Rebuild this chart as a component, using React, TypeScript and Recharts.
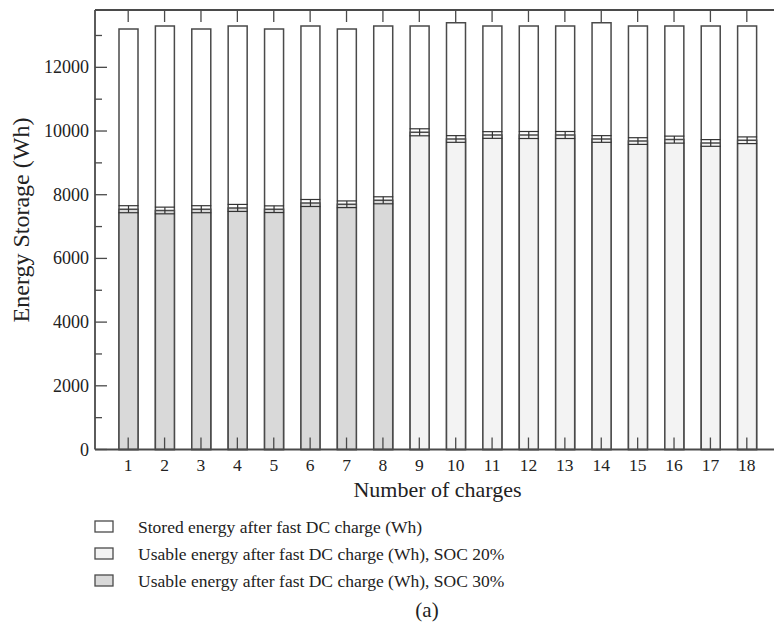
import React from 'react';
import { BarChart, Bar, XAxis, YAxis, ErrorBar } from 'recharts';

const categories = ['1', '2', '3', '4', '5', '6', '7', '8', '9', '10', '11', '12', '13', '14', '15', '16', '17', '18'];
const storedEnergy = [13200, 13300, 13200, 13300, 13200, 13300, 13200, 13300, 13300, 13400, 13300, 13300, 13300, 13400, 13300, 13300, 13300, 13300];
const usableSoc30 = [7545, 7505, 7545, 7585, 7545, 7740, 7700, 7825, null, null, null, null, null, null, null, null, null, null];
const usableSoc20 = [null, null, null, null, null, null, null, null, 9960, 9750, 9875, 9875, 9875, 9750, 9685, 9730, 9625, 9710];
const errorSoc30 = [110, 105, 110, 110, 105, 110, 105, 110, null, null, null, null, null, null, null, null, null, null];
const errorSoc20 = [null, null, null, null, null, null, null, null, 110, 105, 105, 110, 110, 105, 105, 110, 105, 105];
const yTicks = [0, 1000, 2000, 3000, 4000, 5000, 6000, 7000, 8000, 9000, 10000, 11000, 12000, 13000];
const legendItems = [
  { label: 'Stored energy after fast DC charge (Wh)', fill: '#ffffff' },
  { label: 'Usable energy after fast DC charge (Wh), SOC 20%', fill: '#f3f3f3' },
  { label: 'Usable energy after fast DC charge (Wh), SOC 30%', fill: '#d9d9d9' },
];

const data = categories.map((c, i) => ({
  charge: c,
  stored: storedEnergy[i],
  soc30: usableSoc30[i],
  soc20: usableSoc20[i],
  err30: errorSoc30[i],
  err20: errorSoc20[i],
}));

const FONT = '"Liberation Serif", "Times New Roman", serif';
const AX = '#4a4a4a';

const LeftTick = (props: any) => {
  const { x, y, payload } = props;
  const major = payload.value % 2000 === 0;
  return (
    <g>
      <line x1={x} x2={x + (major ? 12 : 7)} y1={y} y2={y} stroke={AX} strokeWidth={1.3} />
      {major && (
        <text x={x - 6} y={y} textAnchor="end" dominantBaseline="central" fontFamily={FONT} fontSize={18} fill="#222">
          {payload.value}
        </text>
      )}
    </g>
  );
};

const RightTick = (props: any) => {
  const { x, y, payload } = props;
  const major = payload.value % 2000 === 0;
  return <line x1={x} x2={x - (major ? 12 : 7)} y1={y} y2={y} stroke={AX} strokeWidth={1.3} />;
};

const BottomTick = (props: any) => {
  const { x, y, payload } = props;
  return (
    <g>
      <line x1={x} x2={x} y1={y} y2={y - 12} stroke={AX} strokeWidth={1.3} />
      <text x={x} y={y + 15.5} textAnchor="middle" dominantBaseline="central" fontFamily={FONT} fontSize={17.5} fill="#222">
        {payload.value}
      </text>
    </g>
  );
};

const TopTick = (props: any) => {
  const { x, y } = props;
  return <line x1={x} x2={x} y1={y} y2={y + 12} stroke={AX} strokeWidth={1.3} />;
};

export default function App() {
  return (
    <div style={{ position: 'absolute', left: 0, top: 0, width: 774, height: 628, overflow: 'hidden', background: '#fff' }}>
      <BarChart
        width={790}
        height={628}
        data={data}
        margin={{ top: 0, right: 0, left: 0, bottom: 118.5 }}
        barSize={19}
        barGap={-19}
      >
        <XAxis
          xAxisId="bottom"
          dataKey="charge"
          orientation="bottom"
          height={60}
          padding={{ left: 15, right: 15 }}
          tickSize={0}
          tickMargin={0}
          tickLine={false}
          axisLine={{ stroke: AX, strokeWidth: 1.8 }}
          tick={BottomTick}
          interval={0}
          label={{
            content: () => (
              <text x={437.5} y={489} textAnchor="middle" dominantBaseline="central" fontFamily={FONT} fontSize={22} fill="#222">
                Number of charges
              </text>
            ),
          }}
        />
        <XAxis
          xAxisId="top"
          dataKey="charge"
          orientation="top"
          height={10}
          padding={{ left: 15, right: 15 }}
          tickSize={0}
          tickMargin={0}
          tickLine={false}
          axisLine={{ stroke: AX, strokeWidth: 1.8 }}
          tick={TopTick}
          interval={0}
        />
        <YAxis
          yAxisId="left"
          orientation="left"
          width={95}
          domain={[0, 13800]}
          ticks={yTicks}
          interval={0}
          tickSize={0}
          tickMargin={0}
          tickLine={false}
          axisLine={{ stroke: AX, strokeWidth: 1.8 }}
          tick={LeftTick}
          label={{
            content: () => (
              <text
                x={21}
                y={220}
                transform="rotate(-90, 21, 220)"
                textAnchor="middle"
                dominantBaseline="central"
                fontFamily={FONT}
                fontSize={24}
                fill="#222"
              >
                Energy Storage (Wh)
              </text>
            ),
          }}
        />
        <YAxis
          yAxisId="right"
          orientation="right"
          width={10}
          domain={[0, 13800]}
          ticks={yTicks}
          interval={0}
          tickSize={0}
          tickMargin={0}
          tickLine={false}
          axisLine={{ stroke: AX, strokeWidth: 1.8 }}
          tick={RightTick}
        />
        <Bar xAxisId="bottom" yAxisId="left" dataKey="stored" fill="#ffffff" stroke={AX} strokeWidth={1.5} isAnimationActive={false} />
        <Bar xAxisId="bottom" yAxisId="left" dataKey="soc20" fill="#f3f3f3" stroke={AX} strokeWidth={1.5} isAnimationActive={false}>
          <ErrorBar dataKey="err20" width={10} stroke="#333" strokeWidth={1.2} isAnimationActive={false} />
        </Bar>
        <Bar xAxisId="bottom" yAxisId="left" dataKey="soc30" fill="#d9d9d9" stroke={AX} strokeWidth={1.5} isAnimationActive={false}>
          <ErrorBar dataKey="err30" width={10} stroke="#333" strokeWidth={1.2} isAnimationActive={false} />
        </Bar>
      </BarChart>
      <svg width={774} height={628} style={{ position: 'absolute', left: 0, top: 0, pointerEvents: 'none' }}>
        {legendItems.map((item, i) => (
          <g key={item.label}>
            <rect x={95} y={521 + i * 27} width={18} height={11} fill={item.fill} stroke={AX} strokeWidth={1.3} />
            <text x={138} y={527 + i * 27} dominantBaseline="central" fontFamily={FONT} fontSize={17.5} fill="#222">
              {item.label}
            </text>
          </g>
        ))}
        <text x={427} y={610} textAnchor="middle" dominantBaseline="central" fontFamily={FONT} fontSize={21} fill="#222">
          (a)
        </text>
      </svg>
    </div>
  );
}
